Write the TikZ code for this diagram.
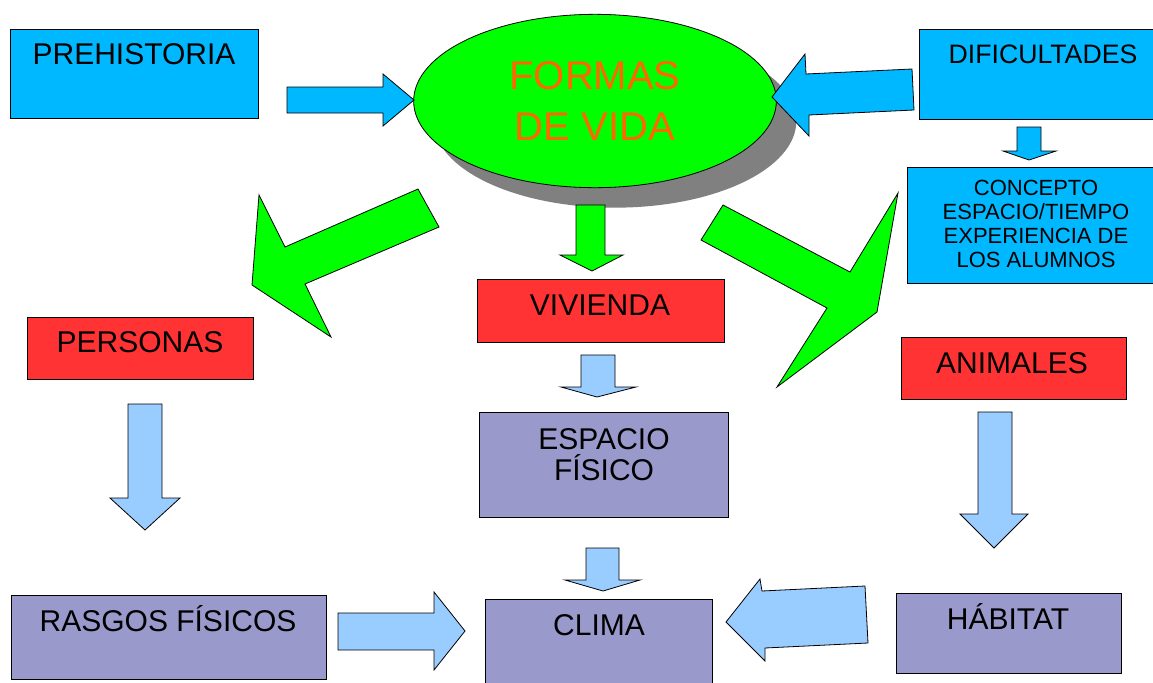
\documentclass[tikz,border=0pt]{standalone}
\usepackage{fontspec}
\setmainfont{Liberation Sans}
\usetikzlibrary{shapes.geometric,shadows}
\definecolor{cyanbox}{HTML}{00B8FF}
\definecolor{redbox}{HTML}{FF3333}
\definecolor{greenar}{HTML}{00FF00}
\definecolor{lightar}{HTML}{99CCFF}
\definecolor{purplebox}{HTML}{9999CC}
\definecolor{formtext}{HTML}{FF6600}
\definecolor{shadowgray}{HTML}{808080}
\begin{document}
\begin{tikzpicture}[x=0.75pt, y=-0.75pt, line join=miter,
  cbox/.style={draw=black, line width=0.6pt, fill=cyanbox},
  rbox/.style={draw=black, line width=0.6pt, fill=redbox},
  pbox/.style={draw=black, line width=0.6pt, fill=purplebox},
  garrow/.style={draw=black, line width=0.6pt, fill=greenar},
  larrow/.style={draw=black, line width=0.6pt, fill=lightar},
  carrow/.style={draw=black, line width=0.6pt, fill=cyanbox},
  txt/.style={anchor=base, inner sep=0pt, font=\fontsize{22.5}{27}\selectfont}]
\useasboundingbox (0,0) rectangle (1153,682);

% centre
\node[ellipse, draw=black, line width=0.6pt, fill=greenar,
  minimum width=272pt, minimum height=130pt, align=center,
  text=formtext, font=\fontsize{30}{38}\selectfont,
  drop shadow={shadow xshift=15pt, shadow yshift=-15pt, fill=shadowgray, opacity=1}]
  (formas) at (595,101) {FORMAS\\DE VIDA};

% boxes
\draw[cbox] (10,29) rectangle (258,118);
\node[txt] (prehist) at (134,64) {PREHISTORIA};
\draw[cbox] (919,29) rectangle (1160,119);
\node[txt, font=\fontsize{20}{24}\selectfont] (dificul) at (1043,63) {DIFICULTADES};
\draw[cbox] (907,167) rectangle (1160,283);
\node[anchor=center, inner sep=0pt, align=center, font=\fontsize{16.5}{18}\selectfont]
  (concepto) at (1036,224) {CONCEPTO\\ESPACIO/TIEMPO\\EXPERIENCIA DE\\LOS ALUMNOS};

\draw[rbox] (477,279) rectangle (724,342);
\node[txt] (vivienda) at (600,315) {VIVIENDA};
\draw[rbox] (27,317) rectangle (253,379);
\node[txt] (personas) at (140,352) {PERSONAS};
\draw[rbox] (901,337) rectangle (1126,399);
\node[txt] (animales) at (1012,373) {ANIMALES};

\draw[pbox] (479,412) rectangle (728,517);
\node[txt] (espacio) at (604,449) {ESPACIO};
\node[txt] (fisico) at (604,480) {FÍSICO};
\draw[pbox] (11,595) rectangle (326,679);
\node[txt] (rasgos) at (168,631) {RASGOS FÍSICOS};
\draw[pbox] (485,599) rectangle (712,690);
\node[txt] (clima) at (599,635) {CLIMA};
\draw[pbox] (896,593) rectangle (1121,673);
\node[txt] (habitat) at (1008,629) {HÁBITAT};

% block arrows
\draw[carrow] (287,87)--(383,87)--(383,74)--(414,100)--(383,126)--(383,113)--(287,113)--cycle;
\draw[carrow] (912,69)--(806,74)--(805,54)--(772,97)--(809,136)--(809,115)--(914,110)--cycle;
\draw[carrow] (1017,127)--(1041,127)--(1041,151)--(1056,151)--(1029,160)--(1003,151)--(1017,151)--cycle;

\draw[garrow] (418,189)--(439,227)--(305,284)--(331,337)--(252,285)--(259,195)--(285,247)--cycle;
\draw[garrow] (576,205)--(605,205)--(605,255)--(623,255)--(592,271)--(560,255)--(576,255)--cycle;
\draw[garrow] (723,205)--(850,272)--(898,193)--(877,312)--(777,387)--(827,308)--(701,240)--cycle;

\draw[larrow] (581,355)--(615,355)--(615,387)--(636,387)--(597,397)--(561,387)--(581,387)--cycle;
\draw[larrow] (128,404)--(162,404)--(162,498)--(180,498)--(145,530)--(110,498)--(128,498)--cycle;
\draw[larrow] (978,412)--(1012,412)--(1012,514)--(1028,514)--(994,548)--(960,514)--(978,514)--cycle;
\draw[larrow] (586,548)--(619,548)--(619,580)--(640,580)--(603,591)--(565,580)--(586,580)--cycle;
\draw[larrow] (338,613)--(434,613)--(434,592)--(465,631)--(434,670)--(434,650)--(338,650)--cycle;
\draw[larrow] (865,586)--(762,591)--(760,579)--(726,622)--(765,661)--(765,648)--(868,643)--cycle;

\end{tikzpicture}
\end{document}
